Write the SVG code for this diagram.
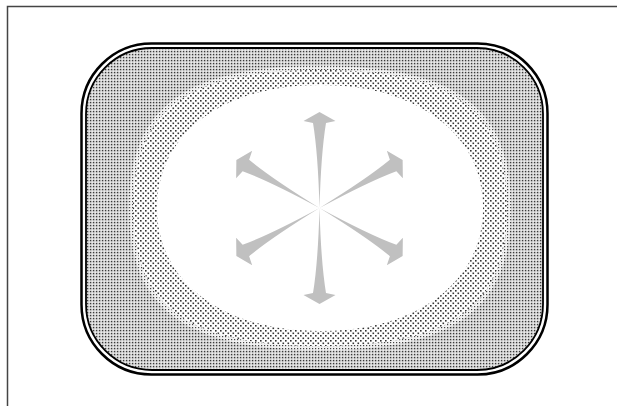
<svg xmlns="http://www.w3.org/2000/svg" width="617" height="406" viewBox="0 0 617 406">
<defs>
<pattern id="dense" width="3" height="3" patternUnits="userSpaceOnUse">
<rect width="3" height="3" fill="#cdcdcd"/>
<rect x="1.5" y="1.5" width="1.5" height="1.5" fill="#ececec"/>
<rect x="0" y="0" width="1.2" height="1.2" fill="#3a3a3a"/>
</pattern>
<pattern id="mid" width="3" height="3" patternUnits="userSpaceOnUse">
<rect width="3" height="3" fill="#f2f2f2"/>
<rect x="0" y="0" width="1.2" height="1.2" fill="#444"/>
</pattern>
<pattern id="sparse" width="5" height="5" patternUnits="userSpaceOnUse">
<rect width="5" height="5" fill="#fff"/>
<rect x="0" y="0" width="1.6" height="1.6" fill="#333"/>
<rect x="2.5" y="2.5" width="1.6" height="1.6" fill="#333"/>
</pattern>
<clipPath id="clip"><rect x="86" y="48" width="457" height="322" rx="66"/></clipPath>
<path id="arrow" d="M0,0 Q-1.5,-55 -6.5,-85 L-16,-87 L0,-96 L16,-87 L6.5,-85 Q1.5,-55 0,0 Z"/>
</defs>
<style>
.frame{fill:none;stroke:#444;stroke-width:1.5}
.line{fill:none;stroke:#000}
.spoke{fill:#c0c0c0}
</style>
<rect x="0" y="0" width="617" height="406" fill="#fff"/>
<rect class="frame" x="7.5" y="6.5" width="700" height="500"/>
<g id="panel">
<g clip-path="url(#clip)">
<rect x="80" y="40" width="470" height="340" fill="url(#dense)"/>
<path fill="url(#mid)" d="M511,208 C511,308.8 455.6,350 320,350 C184.4,350 129,308.8 129,208 C129,107.2 184.4,66 320,66 C455.6,66 511,107.2 511,208 Z"/>
<path fill="url(#sparse)" d="M507,208 C507,306 452.8,346 320,346 C187.2,346 133,306 133,208 C133,110 187.2,70 320,70 C452.8,70 507,110 507,208 Z"/>
<path fill="#fff" d="M483,208 C483,281.8 417.8,331 320,331 C222.2,331 157,281.8 157,208 C157,134.2 222.2,85 320,85 C417.8,85 483,134.2 483,208 Z"/>
</g>
<rect class="line" x="81.5" y="43.5" width="466" height="331" rx="70" stroke-width="2.5"/>
<rect class="line" x="86" y="48" width="457" height="322" rx="66" stroke-width="1.8"/>
</g>
<g id="connectors" class="spoke" transform="translate(319.5,208)">
<use href="#arrow"/>
<use href="#arrow" transform="rotate(60)"/>
<use href="#arrow" transform="rotate(120)"/>
<use href="#arrow" transform="rotate(180)"/>
<use href="#arrow" transform="rotate(240)"/>
<use href="#arrow" transform="rotate(300)"/>
</g>
</svg>
